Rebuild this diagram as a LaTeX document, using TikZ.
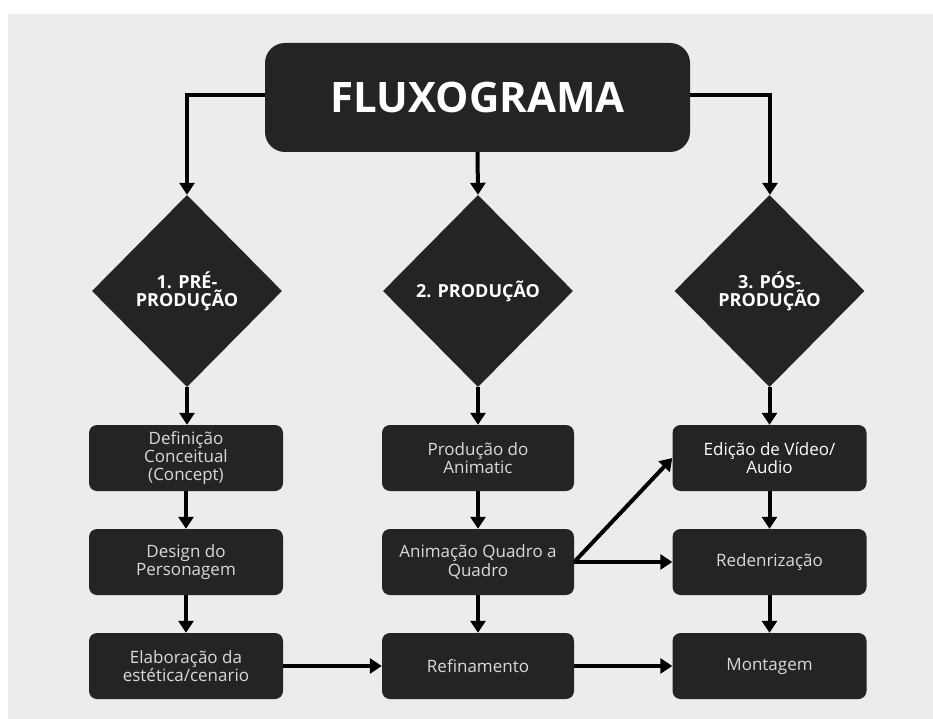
\documentclass[tikz,border=0pt]{standalone}
\usepackage{fontspec}
\setmainfont{Open Sans}
\usetikzlibrary{shapes.geometric,arrows.meta}
\definecolor{bgray}{HTML}{ECECEC}
\definecolor{boxfill}{HTML}{242424}
\definecolor{boxtext}{HTML}{DADADA}
\tikzset{
  stepbox/.style={draw=none, fill=boxfill, rounded corners=8pt, minimum width=194pt, minimum height=66pt, inner sep=0pt, align=center, text=boxtext, font=\fontsize{17}{18.3}\selectfont},
  phase/.style={diamond, aspect=1, fill=boxfill, minimum width=190pt, minimum height=192pt, inner sep=0pt, align=center, text=white, font=\fontsize{18}{17.7}\selectfont\bfseries},
  conn/.style={line width=4pt, -{Triangle[width=15pt,length=12pt]}},
  plainline/.style={line width=4pt}
}
\begin{document}
\begin{tikzpicture}[x=1pt,y=-1pt]
\useasboundingbox (0,0) rectangle (933,719);
\fill[white] (0,0) rectangle (933,719);
\fill[bgray] (8,14) rectangle (933,719);

% title
\node[fill=boxfill, rounded corners=20pt, minimum width=425pt, minimum height=109pt, inner sep=0pt, text=white, font=\fontsize{42}{46}\selectfont\bfseries] (title) at (477.5,97.5) {FLUXOGRAMA};

% diamonds
\node[phase] (pre) at (187,291) {1. PRÉ-\\PRODUÇÃO};
\node[phase] (prod) at (478,291) {2. PRODUÇÃO};
\node[phase] (pos) at (769.5,291) {3. PÓS-\\PRODUÇÃO};

% left column
\node[stepbox] (def) at (186,458) {Definição\\Conceitual\\(Concept)};
\node[stepbox] (des) at (186,562) {Design do\\Personagem};
\node[stepbox] (ela) at (186,666) {Elaboração da\\estética/cenario};

% middle column
\node[stepbox, minimum width=192pt] (ani) at (478,458) {Produção do\\Animatic};
\node[stepbox, minimum width=192pt] (aqq) at (478,562) {Animação Quadro a\\Quadro};
\node[stepbox, minimum width=192pt] (ref) at (478,666) {Refinamento};

% right column
\node[stepbox, text=white] (edi) at (769.5,458) {Edição de Vídeo/\\Audio};
\node[stepbox] (red) at (769.5,562) {Redenrização};
\node[stepbox] (mon) at (769.5,666) {Montagem};

% connectors from title
\coordinate (tl) at (187,95);
\coordinate (tr) at (770,95);
\draw[conn] (title.west |- tl) -- (tl) -- (pre.north);
\draw[conn] (title.east |- tr) -- (tr) -- (pos.north -| tr);
\draw[conn] (title.south) -- (prod.north);

% diamonds to boxes
\draw[conn] (pre.south) -- (pre.south |- def.north);
\draw[conn] (prod.south) -- (ani.north);
\draw[conn] (pos.south) -- (edi.north);

% column arrows
\draw[conn] (def.south) -- (des.north);
\draw[conn] (des.south) -- (ela.north);
\draw[conn] (ani.south) -- (aqq.north);
\draw[conn] (aqq.south) -- (ref.north);
\draw[conn] (edi.south) -- (red.north);
\draw[conn] (red.south) -- (mon.north);

% cross arrows
\draw[conn] (ela.east) -- (ref.west);
\draw[conn] (ref.east) -- (mon.west);
\draw[conn] (aqq.east) -- (red.west);
\draw[conn] (aqq.east) -- (edi.west);
\end{tikzpicture}
\end{document}
